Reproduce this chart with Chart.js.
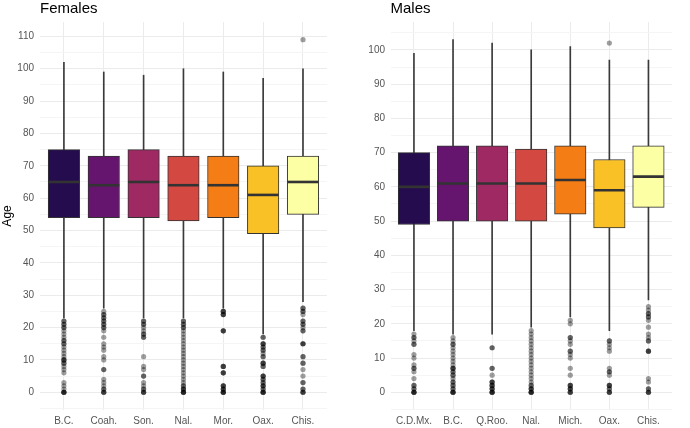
<!DOCTYPE html>
<html>
<head>
<meta charset="utf-8">
<script src="https://cdn.jsdelivr.net/npm/chart.js@4/dist/chart.umd.min.js"></script>
<style>
  html, body { margin: 0; padding: 0; background: #fff; }
  .panel { position: absolute; top: 0; width: 345px; height: 428px; }
  #left { left: 0; }
  #right { left: 345px; }
</style>
</head>
<body>
<div class="panel" id="left"><canvas id="femalesChart" width="345" height="428"></canvas></div>
<div class="panel" id="right"><canvas id="malesChart" width="345" height="428"></canvas></div>
<script>
// Datos (edad por estado)
const femaleStates = ['B.C.', 'Coah.', 'Son.', 'Nal.', 'Mor.', 'Oax.', 'Chis.'];
const femaleLow = [23, 26, 23, 23, 26, 18, 28];
const femaleQ1 = [54, 54, 54, 53, 54, 49, 55];
const femaleMedian = [65, 64, 65, 64, 64, 61, 65];
const femaleQ3 = [75, 73, 75, 73, 73, 70, 73];
const femaleHigh = [102, 99, 98, 100, 99, 97, 100];
const femaleOutliers = [
  [22, 22, 21, 21, 20, 20, 19, 18, 17, 16, 16, 15, 15, 14, 13, 12, 11, 10, 10, 10, 9, 9, 8, 7, 6, 3, 2, 1, 0, 0, 0, 0],
  [25, 24, 24, 23, 23, 22, 22, 21, 21, 20, 20, 19, 17, 15, 14, 13, 11, 10, 7, 7, 4, 3, 2, 1, 1, 0, 0, 0],
  [22, 22, 21, 21, 20, 19, 18, 18, 17, 17, 11, 8, 7, 5, 5, 3, 2, 1, 1, 0, 0, 0],
  [22, 22, 21, 21, 20, 20, 19, 18, 17, 16, 15, 14, 13, 12, 11, 10, 9, 8, 7, 6, 5, 4, 3, 2, 2, 1, 1, 1, 0, 0, 0, 0],
  [25, 25, 25, 24, 24, 24, 19, 19, 19, 8, 8, 8, 6, 6, 6, 2, 2, 2, 1, 1, 1, 0, 0, 0, 0],
  [17, 17, 15, 15, 15, 14, 14, 13, 13, 12, 11, 11, 9, 9, 9, 8, 8, 5, 5, 5, 4, 4, 3, 3, 2, 2, 2, 1, 1, 0, 0, 0, 0],
  [26, 26, 25, 25, 24, 22, 22, 21, 21, 20, 19, 19, 15, 15, 15, 11, 11, 9, 9, 7, 5, 3, 3, 1, 1, 0, 0, 0, 109]
];

const maleStates = ['C.D.Mx.', 'B.C.', 'Q.Roo.', 'Nal.', 'Mich.', 'Oax.', 'Chis.'];
const maleLow = [18, 17, 17, 19, 22, 18, 27];
const maleQ1 = [49, 50, 50, 50, 52, 48, 54];
const maleMedian = [60, 61, 61, 61, 62, 59, 63];
const maleQ3 = [70, 72, 72, 71, 72, 68, 72];
const maleHigh = [99, 103, 102, 100, 101, 97, 97];
const maleOutliers = [
  [17, 16, 16, 15, 14, 14, 11, 10, 8, 7, 7, 6, 4, 2, 2, 1, 1, 0, 0, 0, 0],
  [16, 15, 14, 14, 13, 12, 11, 10, 9, 8, 7, 7, 7, 6, 6, 5, 5, 4, 3, 3, 2, 2, 1, 1, 0, 0, 0, 0],
  [13, 13, 7, 7, 5, 3, 3, 3, 2, 2, 2, 1, 1, 1, 0, 0, 0, 0],
  [18, 17, 16, 15, 14, 13, 12, 11, 10, 9, 8, 7, 6, 5, 4, 3, 2, 2, 1, 1, 1, 0, 0, 0, 0],
  [21, 20, 16, 16, 15, 14, 12, 12, 11, 10, 7, 5, 2, 2, 2, 1, 1, 1, 0, 0, 0],
  [15, 15, 14, 13, 12, 7, 6, 6, 5, 2, 2, 2, 1, 1, 0, 0, 0, 102],
  [25, 24, 23, 23, 22, 22, 21, 19, 17, 16, 15, 15, 12, 12, 12, 4, 3, 1, 1, 0, 0, 0]
];

const fillColors = ['#240c4f', '#65156e', '#9f2a63', '#d44842', '#f57d15', '#fac127', '#fcffa4'];

const fontFamily = '"Liberation Sans", Arial, Helvetica, sans-serif';
const tickColor = '#555555';

function makeBoxChart(canvasId, title, states, low, q1, median, q3, high, outliers, opts) {
  const allValues = high.concat(...outliers, low);
  const dataMax = Math.max(...allValues);
  const dataMin = Math.min(...allValues);
  const pad = (dataMax - dataMin) * 0.05;

  const whiskers = states.map((s, i) => ({ x: i + 1, y: [low[i], high[i]] }));
  const boxes = states.map((s, i) => ({ x: i + 1, y: [q1[i], q3[i]] }));
  const medians = states.map((s, i) => ({ x: i + 1, y: median[i] }));
  const points = [];
  outliers.forEach((list, i) => {
    list.forEach(v => points.push({ x: i + 1, y: v }));
  });

  return new Chart(document.getElementById(canvasId), {
    type: 'bar',
    data: {
      datasets: [
        {
          type: 'scatter',
          data: points,
          order: 1,
          pointRadius: 2.6,
          pointBackgroundColor: 'rgba(0,0,0,0.38)',
          pointBorderWidth: 0
        },
        {
          type: 'scatter',
          data: medians,
          order: 2,
          pointStyle: 'line',
          pointRadius: 15.5,
          pointBorderWidth: 2.6,
          pointBorderColor: '#333333'
        },
        {
          data: boxes,
          order: 3,
          grouped: false,
          barThickness: 31.5,
          backgroundColor: fillColors,
          borderColor: '#333333',
          borderWidth: 1,
          borderSkipped: false
        },
        {
          data: whiskers,
          order: 4,
          grouped: false,
          barThickness: 1,
          backgroundColor: '#3a3a3a',
          borderWidth: 0
        }
      ]
    },
    options: {
      responsive: false,
      animation: false,
      events: [],
      layout: { padding: { left: 0, right: opts.padRight, top: 0, bottom: 0 } },
      plugins: {
        legend: { display: false },
        tooltip: { enabled: false },
        title: {
          display: true,
          text: title,
          align: 'start',
          fullSize: false,
          color: '#000000',
          font: { family: fontFamily, size: 15, weight: 'normal', lineHeight: 1 },
          padding: { top: 1, bottom: 6 }
        }
      },
      scales: {
        x: {
          type: 'linear',
          offset: false,
          min: 0.4,
          max: states.length + 0.6,
          grid: { color: '#ebebeb', lineWidth: 1, drawTicks: false, offset: false },
          border: { display: false },
          ticks: {
            stepSize: 1,
            includeBounds: false,
            autoSkip: false,
            maxRotation: 0,
            padding: 5,
            color: tickColor,
            font: { family: fontFamily, size: 10 },
            callback: v => states[v - 1] || ''
          },
          afterFit: scale => { scale.height = 16; }
        },
        y: {
          type: 'linear',
          min: dataMin - pad,
          max: dataMax + pad,
          grid: {
            drawTicks: false,
            lineWidth: 1,
            color: ctx => (ctx.tick && ctx.tick.value % 10 === 0) ? '#ebebeb' : '#f5f5f5'
          },
          border: { display: false },
          title: {
            display: opts.showTitle,
            text: 'Age',
            color: '#000000',
            font: { family: fontFamily, size: 12 },
            padding: 0
          },
          ticks: {
            stepSize: 5,
            includeBounds: false,
            autoSkip: false,
            padding: opts.tickPad,
            color: tickColor,
            font: { family: fontFamily, size: 10 },
            callback: v => (v % 10 === 0 ? v : '')
          },
          afterFit: scale => { scale.width = opts.axisWidth; }
        }
      }
    }
  });
}

makeBoxChart('femalesChart', 'Females', femaleStates, femaleLow, femaleQ1, femaleMedian, femaleQ3, femaleHigh, femaleOutliers,
  { padRight: 6, axisWidth: 40, tickPad: 6, showTitle: true });
makeBoxChart('malesChart', 'Males', maleStates, maleLow, maleQ1, maleMedian, maleQ3, maleHigh, maleOutliers,
  { padRight: 0, axisWidth: 45.5, tickPad: 5.5, showTitle: false });
</script>
</body>
</html>
